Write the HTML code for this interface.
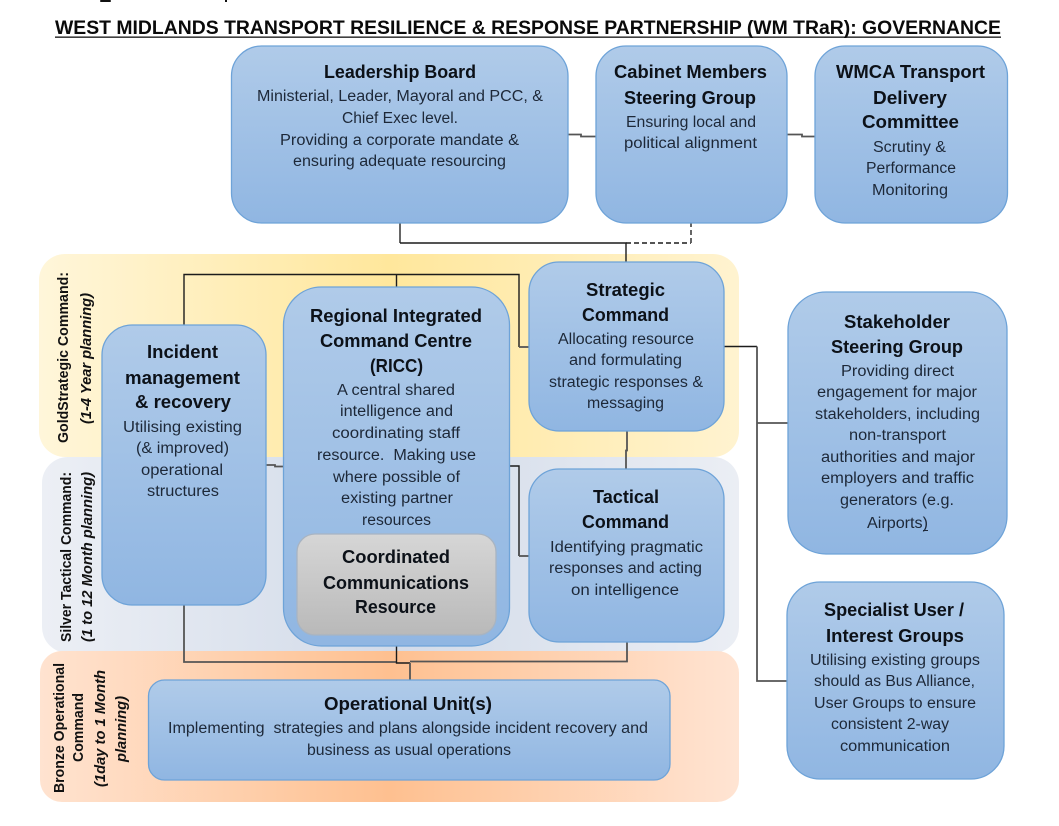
<!DOCTYPE html>
<html lang="en"><head><meta charset="utf-8"><title>WM TRaR Governance</title>
<style>
html,body{margin:0;padding:0;background:#fff}
svg{display:block}
text{font-family:"Liberation Sans",Arial,sans-serif;fill:#1d2838;font-size:15.5px}
.h{font-weight:700;fill:#0c1118;font-size:18px}
.t{font-weight:700;fill:#0a0a0a;font-size:19px}
.r{font-weight:700;fill:#111;font-size:15px}
.i{font-weight:700;font-style:italic;fill:#111;font-size:14.5px}
.n{fill:none;stroke:#1c1c1c;stroke-width:1.4}
.g{fill:none;stroke:#555;stroke-width:1.8}
.b{stroke:#6ea3d8;stroke-width:1.3;fill:url(#bl)}
</style></head><body>
<svg width="1059" height="826" viewBox="0 0 1059 826" xmlns="http://www.w3.org/2000/svg">
<defs>
<linearGradient id="bl" x1="0" y1="0" x2="0" y2="1"><stop offset="0" stop-color="#b0cbe9"/><stop offset="1" stop-color="#90b6e2"/></linearGradient>
<linearGradient id="gr" x1="0" y1="0" x2="0" y2="1"><stop offset="0" stop-color="#d6d6d6"/><stop offset="1" stop-color="#b9b9b9"/></linearGradient>
<linearGradient id="go" x1="0" y1="0" x2="1" y2="0"><stop offset="0" stop-color="#fff6da"/><stop offset=".5" stop-color="#ffe79c"/><stop offset="1" stop-color="#fff3d0"/></linearGradient>
<linearGradient id="si" x1="0" y1="0" x2="1" y2="0"><stop offset="0" stop-color="#eceff5"/><stop offset=".5" stop-color="#d2dbe9"/><stop offset="1" stop-color="#ebeef4"/></linearGradient>
<linearGradient id="br" x1="0" y1="0" x2="1" y2="0"><stop offset="0" stop-color="#ffe3d0"/><stop offset=".5" stop-color="#fec090"/><stop offset="1" stop-color="#ffe4d3"/></linearGradient>
</defs>

<!-- clipped line above the title -->
<rect x="100" y="0" width="11" height="2" rx="1" fill="#111"/>
<rect x="225" y="0" width="2" height="2" fill="#111"/>

<text class="t" x="55" y="34" textLength="946" lengthAdjust="spacingAndGlyphs">WEST MIDLANDS TRANSPORT RESILIENCE &amp; RESPONSE PARTNERSHIP (WM TRaR): GOVERNANCE</text>
<rect x="55" y="36.5" width="946" height="1.3" fill="#111"/>

<!-- bands -->
<rect x="39" y="254" width="700" height="203" rx="26" fill="url(#go)"/>
<rect x="42" y="457" width="697" height="196" rx="26" fill="url(#si)"/>
<rect x="40" y="651" width="699" height="151" rx="22" fill="url(#br)"/>

<!-- connectors -->
<path class="g" d="M400 223V243"/>
<path class="n" d="M400 243H626V262"/>
<path class="n" d="M626 243H691" stroke-dasharray="5 3"/>
<path class="g" d="M691 243V223" stroke-dasharray="5 3"/>
<path class="g" d="M568 134.500H581V136.500H596"/>
<path class="g" d="M787 134.500H802V136.500H815"/>
<path class="n" d="M184 325V274.500H519V347"/>
<path class="n" d="M396.500 274.500V287"/>
<path class="g" d="M519 347H529"/>
<path class="g" d="M266 465H275V466.500H283"/>
<path class="n" d="M509 466H519V556"/>
<path class="g" d="M519 556H529"/>
<path class="g" d="M627 431V450.500H626V469"/>
<path class="n" d="M724 346.500H757"/>
<path class="g" d="M757 346.500V681H787"/>
<path class="g" d="M757 423H788"/>
<path class="g" d="M184 605V662H396.500"/>
<path class="n" d="M396.500 646V663H410"/>
<path class="g" d="M410 663V680"/>
<path class="g" d="M410 661.500H627V642"/>

<!-- boxes -->
<rect class="b" x="231.500" y="46" width="336.500" height="177" rx="30"/>
<rect class="b" x="596" y="46" width="191" height="177" rx="30"/>
<rect class="b" x="815" y="46" width="192.500" height="177" rx="30"/>
<rect class="b" x="529" y="262" width="195" height="169" rx="30"/>
<rect class="b" x="529" y="469" width="195" height="173" rx="30"/>
<rect class="b" x="102" y="325" width="164" height="280" rx="30"/>
<rect class="b" x="283.500" y="287" width="226" height="359" rx="38"/>
<rect x="297" y="534" width="199" height="101" rx="18" fill="url(#gr)" stroke="#a8b4c2" stroke-width="1.3"/>
<rect class="b" x="148.500" y="680" width="521.500" height="100" rx="16"/>
<rect class="b" x="788" y="292" width="219" height="262" rx="38"/>
<rect class="b" x="787" y="582" width="217" height="197" rx="33"/>

<!-- Leadership -->
<text class="h" x="324" y="78" textLength="152" lengthAdjust="spacingAndGlyphs">Leadership Board</text>
<text x="257" y="101" textLength="286" lengthAdjust="spacingAndGlyphs">Ministerial, Leader, Mayoral and PCC, &amp;</text>
<text x="342" y="123" textLength="116" lengthAdjust="spacingAndGlyphs">Chief Exec level.</text>
<text x="280" y="145" textLength="239" lengthAdjust="spacingAndGlyphs">Providing a corporate mandate &amp;</text>
<text x="293" y="166" textLength="213" lengthAdjust="spacingAndGlyphs">ensuring adequate resourcing</text>

<!-- Cabinet -->
<text class="h" x="614" y="78" textLength="153" lengthAdjust="spacingAndGlyphs">Cabinet Members</text>
<text class="h" x="624" y="104" textLength="132" lengthAdjust="spacingAndGlyphs">Steering Group</text>
<text x="626" y="127" textLength="130" lengthAdjust="spacingAndGlyphs">Ensuring local and</text>
<text x="624" y="148" textLength="133" lengthAdjust="spacingAndGlyphs">political alignment</text>

<!-- WMCA -->
<text class="h" x="836" y="78" textLength="149" lengthAdjust="spacingAndGlyphs">WMCA Transport</text>
<text class="h" x="873" y="104" textLength="74" lengthAdjust="spacingAndGlyphs">Delivery</text>
<text class="h" x="862" y="128" textLength="97" lengthAdjust="spacingAndGlyphs">Committee</text>
<text x="873" y="152" textLength="73" lengthAdjust="spacingAndGlyphs">Scrutiny &amp;</text>
<text x="866" y="173" textLength="90" lengthAdjust="spacingAndGlyphs">Performance</text>
<text x="872" y="195" textLength="76" lengthAdjust="spacingAndGlyphs">Monitoring</text>

<!-- Strategic -->
<text class="h" x="586" y="296" textLength="79" lengthAdjust="spacingAndGlyphs">Strategic</text>
<text class="h" x="582" y="321" textLength="87" lengthAdjust="spacingAndGlyphs">Command</text>
<text x="558" y="344" textLength="136" lengthAdjust="spacingAndGlyphs">Allocating resource</text>
<text x="569" y="365" textLength="113" lengthAdjust="spacingAndGlyphs">and formulating</text>
<text x="549" y="387" textLength="154" lengthAdjust="spacingAndGlyphs">strategic responses &amp;</text>
<text x="587" y="408" textLength="77" lengthAdjust="spacingAndGlyphs">messaging</text>

<!-- Tactical -->
<text class="h" x="593" y="503" textLength="66" lengthAdjust="spacingAndGlyphs">Tactical</text>
<text class="h" x="582" y="528" textLength="87" lengthAdjust="spacingAndGlyphs">Command</text>
<text x="550" y="552" textLength="153" lengthAdjust="spacingAndGlyphs">Identifying pragmatic</text>
<text x="549" y="573" textLength="153" lengthAdjust="spacingAndGlyphs">responses and acting</text>
<text x="571" y="595" textLength="108" lengthAdjust="spacingAndGlyphs">on intelligence</text>

<!-- Incident -->
<text class="h" x="147" y="358" textLength="71" lengthAdjust="spacingAndGlyphs">Incident</text>
<text class="h" x="125" y="384" textLength="115" lengthAdjust="spacingAndGlyphs">management</text>
<text class="h" x="135" y="408" textLength="96" lengthAdjust="spacingAndGlyphs">&amp; recovery</text>
<text x="123" y="432" textLength="119" lengthAdjust="spacingAndGlyphs">Utilising existing</text>
<text x="136" y="453" textLength="93" lengthAdjust="spacingAndGlyphs">(&amp; improved)</text>
<text x="141" y="475" textLength="82" lengthAdjust="spacingAndGlyphs">operational</text>
<text x="147" y="496" textLength="72" lengthAdjust="spacingAndGlyphs">structures</text>

<!-- RICC -->
<text class="h" x="310" y="322" textLength="172" lengthAdjust="spacingAndGlyphs">Regional Integrated</text>
<text class="h" x="320" y="347" textLength="152" lengthAdjust="spacingAndGlyphs">Command Centre</text>
<text class="h" x="370" y="372" textLength="53" lengthAdjust="spacingAndGlyphs">(RICC)</text>
<text x="337" y="395" textLength="118" lengthAdjust="spacingAndGlyphs">A central shared</text>
<text x="340" y="416" textLength="113" lengthAdjust="spacingAndGlyphs">intelligence and</text>
<text x="332" y="438" textLength="128" lengthAdjust="spacingAndGlyphs">coordinating staff</text>
<text x="317" y="460" textLength="159" lengthAdjust="spacingAndGlyphs" xml:space="preserve">resource.  Making use</text>
<text x="333" y="482" textLength="127" lengthAdjust="spacingAndGlyphs">where possible of</text>
<text x="341" y="503" textLength="112" lengthAdjust="spacingAndGlyphs">existing partner</text>
<text x="362" y="525" textLength="69" lengthAdjust="spacingAndGlyphs">resources</text>

<!-- Coordinated -->
<text class="h" x="342" y="563" textLength="108" lengthAdjust="spacingAndGlyphs">Coordinated</text>
<text class="h" x="323" y="589" textLength="146" lengthAdjust="spacingAndGlyphs">Communications</text>
<text class="h" x="355" y="613" textLength="81" lengthAdjust="spacingAndGlyphs">Resource</text>

<!-- Operational -->
<text class="h" x="324" y="710" textLength="168" lengthAdjust="spacingAndGlyphs">Operational Unit(s)</text>
<text x="168" y="733" textLength="480" lengthAdjust="spacingAndGlyphs" xml:space="preserve">Implementing  strategies and plans alongside incident recovery and</text>
<text x="307" y="755" textLength="204" lengthAdjust="spacingAndGlyphs">business as usual operations</text>

<!-- Stakeholder -->
<text class="h" x="844" y="328" textLength="106" lengthAdjust="spacingAndGlyphs">Stakeholder</text>
<text class="h" x="831" y="353" textLength="132" lengthAdjust="spacingAndGlyphs">Steering Group</text>
<text x="841" y="376" textLength="113" lengthAdjust="spacingAndGlyphs">Providing direct</text>
<text x="817" y="397" textLength="160" lengthAdjust="spacingAndGlyphs">engagement for major</text>
<text x="815" y="419" textLength="165" lengthAdjust="spacingAndGlyphs">stakeholders, including</text>
<text x="849" y="440" textLength="97" lengthAdjust="spacingAndGlyphs">non-transport</text>
<text x="821" y="462" textLength="154" lengthAdjust="spacingAndGlyphs">authorities and major</text>
<text x="821" y="483" textLength="153" lengthAdjust="spacingAndGlyphs">employers and traffic</text>
<text x="840" y="505" textLength="114" lengthAdjust="spacingAndGlyphs">generators (e.g.</text>
<text x="867" y="528" textLength="61" lengthAdjust="spacingAndGlyphs">Airports)</text>
<rect x="923" y="530" width="5" height="1" fill="#1d2838"/>

<!-- Specialist -->
<text class="h" x="824" y="616" textLength="140" lengthAdjust="spacingAndGlyphs">Specialist User /</text>
<text class="h" x="826" y="642" textLength="138" lengthAdjust="spacingAndGlyphs">Interest Groups</text>
<text x="810" y="665" textLength="170" lengthAdjust="spacingAndGlyphs">Utilising existing groups</text>
<text x="814" y="686" textLength="161" lengthAdjust="spacingAndGlyphs">should as Bus Alliance,</text>
<text x="814" y="708" textLength="162" lengthAdjust="spacingAndGlyphs">User Groups to ensure</text>
<text x="831" y="729" textLength="118" lengthAdjust="spacingAndGlyphs">consistent 2-way</text>
<text x="840" y="751" textLength="110" lengthAdjust="spacingAndGlyphs">communication</text>

<!-- rotated labels -->
<text class="r" transform="translate(68 443) rotate(-90)" textLength="171" lengthAdjust="spacingAndGlyphs">GoldStrategic Command:</text>
<text class="i" transform="translate(91 424) rotate(-90)" textLength="131" lengthAdjust="spacingAndGlyphs">(1-4 Year planning)</text>
<text class="r" transform="translate(71 642) rotate(-90)" textLength="170" lengthAdjust="spacingAndGlyphs">Silver Tactical Command:</text>
<text class="i" transform="translate(92 642) rotate(-90)" textLength="170" lengthAdjust="spacingAndGlyphs">(1 to 12 Month planning)</text>
<text class="r" transform="translate(64 793) rotate(-90)" textLength="130" lengthAdjust="spacingAndGlyphs">Bronze Operational</text>
<text class="r" transform="translate(83 762) rotate(-90)" textLength="69" lengthAdjust="spacingAndGlyphs">Command</text>
<text class="i" transform="translate(105 787) rotate(-90)" textLength="117" lengthAdjust="spacingAndGlyphs">(1day to 1 Month</text>
<text class="i" transform="translate(126 762) rotate(-90)" textLength="66" lengthAdjust="spacingAndGlyphs">planning)</text>
</svg>
</body></html>
